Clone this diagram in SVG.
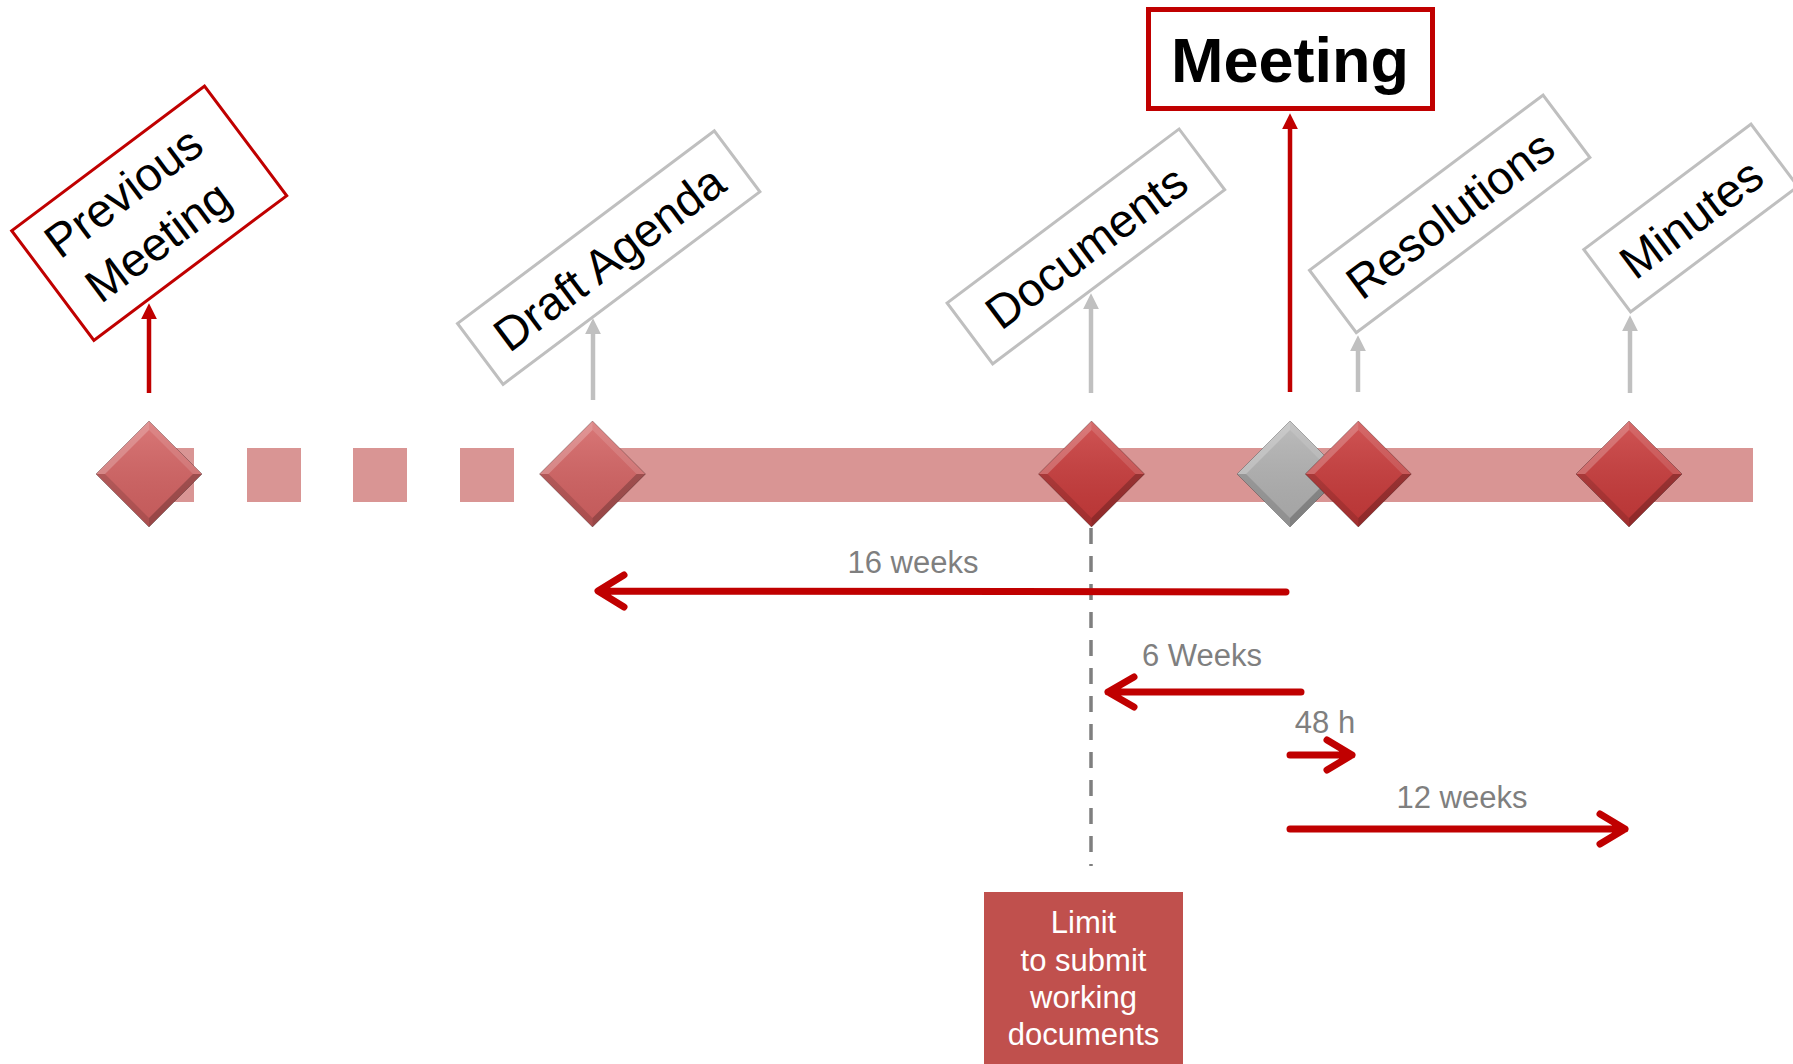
<svg xmlns="http://www.w3.org/2000/svg" width="1793" height="1064" viewBox="0 0 1793 1064">
<style>
text{font-family:"Liberation Sans",Arial,sans-serif}
.bar{fill:#D99594}
.lbl{font-size:47px;fill:#000;text-anchor:middle}
.gbox{fill:#fff;stroke:#BFBFBF;stroke-width:3}
.rbox{fill:#fff;stroke:#C00000;stroke-width:3}
.lead-r{stroke:#C00000;stroke-width:4.5;fill:none}
.lead-g{stroke:#C0C0C0;stroke-width:4.5;fill:none}
.tl{stroke:#C00000;stroke-width:7;fill:none;stroke-linecap:round;stroke-linejoin:round}
.dur{font-size:31px;fill:#7F7F7F;text-anchor:middle}
.dash{stroke:#7F7F7F;stroke-width:3.5;stroke-dasharray:16 12;fill:none}
.pink{fill:#D46262}
.red{fill:#C93A3A}
.gray{fill:#B2B2B2}
</style>
<defs>
<marker id="ar" viewBox="0 0 10 10" refX="2" refY="5" markerUnits="userSpaceOnUse" markerWidth="16" markerHeight="16" orient="auto">
<path d="M0,0 L10,5 L0,10 z" fill="#C00000"/>
</marker>
<marker id="ag" viewBox="0 0 10 10" refX="2" refY="5" markerUnits="userSpaceOnUse" markerWidth="16" markerHeight="16" orient="auto">
<path d="M0,0 L10,5 L0,10 z" fill="#C0C0C0"/>
</marker>
<linearGradient id="shade" x1="0" y1="0" x2="0" y2="1">
<stop offset="0" stop-color="#fff" stop-opacity="0.14"/>
<stop offset="1" stop-color="#000" stop-opacity="0.08"/>
</linearGradient>
<polygon id="dshape" points="0,-53 53,0 0,53 -53,0"/>
<g id="bevel">
<polygon points="0,-53 53,0 0,53 -53,0" fill="url(#shade)"/>
<polygon points="-53,0 0,-53 0,-44 -44,0" fill="#fff" fill-opacity="0.22"/>
<polygon points="0,-53 53,0 44,0 0,-44" fill="#fff" fill-opacity="0.12"/>
<polygon points="53,0 0,53 0,44 44,0" fill="#000" fill-opacity="0.22"/>
<polygon points="0,53 -53,0 -44,0 0,44" fill="#000" fill-opacity="0.12"/>
<polygon points="0,-53 53,0 0,53 -53,0" fill="none" stroke="#000" stroke-opacity="0.25" stroke-width="1"/>
</g>
</defs>
<rect width="1793" height="1064" fill="#fff"/>

<g id="timeline-bar">
<rect class="bar" x="140" y="448" width="54" height="54"/>
<rect class="bar" x="247" y="448" width="54" height="54"/>
<rect class="bar" x="353" y="448" width="54" height="54"/>
<rect class="bar" x="460" y="448" width="54" height="54"/>
<rect class="bar" x="592" y="448" width="1161" height="54"/>
</g>

<g id="connectors">
<line class="lead-r" x1="149" y1="393" x2="149" y2="316" marker-end="url(#ar)"/>
<line class="lead-g" x1="593" y1="400" x2="593" y2="331" marker-end="url(#ag)"/>
<line class="lead-g" x1="1091" y1="393" x2="1091" y2="306" marker-end="url(#ag)"/>
<line class="lead-r" x1="1290" y1="392" x2="1290" y2="126" marker-end="url(#ar)"/>
<line class="lead-g" x1="1358" y1="392" x2="1358" y2="348" marker-end="url(#ag)"/>
<line class="lead-g" x1="1630" y1="393" x2="1630" y2="328" marker-end="url(#ag)"/>
<line class="dash" x1="1091" y1="528" x2="1091" y2="866"/>
<path class="tl" d="M1286,592 L599,591 M624,575 L598,591 L624,607"/>
<path class="tl" d="M1301,692 L1108,692 M1134,677 L1108,692 L1134,707"/>
<path class="tl" d="M1290,755 L1352,755 M1327,740 L1352,755 L1327,770"/>
<path class="tl" d="M1290,829 L1625,829 M1600,814 L1625,829 L1600,844"/>
<text class="dur" x="913" y="573">16 weeks</text>
<text class="dur" x="1202" y="666">6 Weeks</text>
<text class="dur" x="1325" y="733">48 h</text>
<text class="dur" x="1462" y="808">12 weeks</text>
</g>

<g id="previous-meeting">
<g transform="translate(149,474)"><use href="#dshape" class="pink"/><use href="#bevel"/></g>
<g transform="translate(149.2,213.2) rotate(-36.87)">
<rect class="rbox" x="-120.5" y="-68.5" width="241" height="137"/>
<text class="lbl" x="-8" y="-16">Previous</text>
<text class="lbl" x="-10" y="44">Meeting</text>
</g>
</g>

<g id="draft-agenda">
<g transform="translate(592.5,474)"><use href="#dshape" class="pink"/><use href="#bevel"/></g>
<g transform="translate(608.7,257.6) rotate(-36.87)">
<rect class="gbox" x="-160.5" y="-38" width="321" height="76"/>
<text class="lbl" x="0" y="17">Draft Agenda</text>
</g>
</g>

<g id="documents">
<g transform="translate(1091.5,474)"><use href="#dshape" class="red"/><use href="#bevel"/></g>
<g transform="translate(1085.9,246.4) rotate(-36.87)">
<rect class="gbox" x="-145" y="-38" width="290" height="76"/>
<text class="lbl" x="0" y="17">Documents</text>
</g>
</g>

<g id="meeting">
<g transform="translate(1290,474)"><use href="#dshape" class="gray"/><use href="#bevel"/></g>
<rect x="1148.5" y="9.5" width="284" height="99" fill="#fff" stroke="#C00000" stroke-width="5"/>
<text x="1290" y="82" font-size="63" font-weight="bold" text-anchor="middle" fill="#000">Meeting</text>
</g>

<g id="resolutions">
<g transform="translate(1358.3,474)"><use href="#dshape" class="red"/><use href="#bevel"/></g>
<g transform="translate(1449.7,213.9) rotate(-36.87)">
<rect class="gbox" x="-146" y="-39" width="292" height="78"/>
<text class="lbl" x="0" y="17">Resolutions</text>
</g>
</g>

<g id="minutes">
<g transform="translate(1629,474)"><use href="#dshape" class="red"/><use href="#bevel"/></g>
<g transform="translate(1690.8,218) rotate(-36.87)">
<rect class="gbox" x="-104.5" y="-39" width="209" height="78"/>
<text class="lbl" x="0" y="17">Minutes</text>
</g>
</g>

<g id="limit">
<rect x="984" y="892" width="199" height="172" fill="#C0504D"/>
<text x="1083.5" y="933" font-size="31" fill="#fff" text-anchor="middle">Limit</text>
<text x="1083.5" y="971" font-size="31" fill="#fff" text-anchor="middle">to submit</text>
<text x="1083.5" y="1008" font-size="31" fill="#fff" text-anchor="middle">working</text>
<text x="1083.5" y="1045" font-size="31" fill="#fff" text-anchor="middle">documents</text>
</g>
</svg>
